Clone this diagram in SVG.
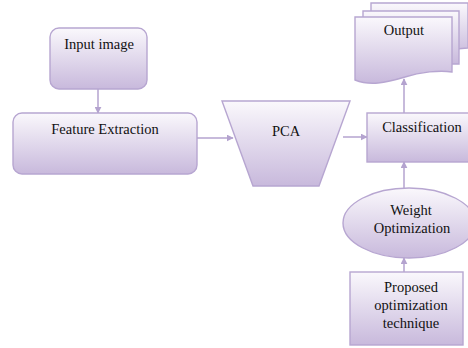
<svg xmlns="http://www.w3.org/2000/svg" width="468" height="348" viewBox="0 0 468 348">
  <defs>
    <linearGradient id="fill" x1="0" y1="0" x2="0" y2="1">
      <stop offset="0" stop-color="#faf8fc"/>
      <stop offset="1" stop-color="#c8b9dc"/>
    </linearGradient>
    <marker id="arrow" viewBox="0 0 10 10" refX="9" refY="5" markerWidth="7" markerHeight="7" markerUnits="userSpaceOnUse" orient="auto">
      <path d="M0,0 L10,5 L0,10 Z" fill="#b4a3cf"/>
    </marker>
  </defs>
  <style>
    .shape { fill: url(#fill); stroke: #b7a6d1; stroke-width: 1.4; }
    .label { font-family: "Liberation Serif", "Times New Roman", serif; font-size: 14.5px; fill: #111; text-anchor: middle; }
    .conn { stroke: #b4a3cf; stroke-width: 1.5; fill: none; marker-end: url(#arrow); }
  </style>

  <g id="connectors">
    <line class="conn" x1="98" y1="89" x2="98" y2="113"/>
    <line class="conn" x1="197" y1="138" x2="233" y2="138"/>
    <line class="conn" x1="343" y1="137" x2="367" y2="137"/>
    <line class="conn" x1="404" y1="113" x2="404" y2="79"/>
    <line class="conn" x1="404" y1="188" x2="404" y2="162"/>
    <line class="conn" x1="404" y1="272" x2="404" y2="258"/>
  </g>

  <g id="input-image">
    <rect class="shape" x="50" y="28" width="97" height="61" rx="9"/>
    <text class="label" x="99" y="49">Input image</text>
  </g>

  <g id="feature-extraction">
    <rect class="shape" x="13" y="113" width="184" height="61" rx="9"/>
    <text class="label" x="105" y="134">Feature Extraction</text>
  </g>

  <g id="pca">
    <polygon class="shape" points="222,101 350,101 319,186 253,186"/>
    <text class="label" x="286" y="136">PCA</text>
  </g>

  <g id="classification">
    <rect class="shape" x="367" y="113" width="110" height="49"/>
    <text class="label" x="422" y="132">Classification</text>
  </g>

  <g id="output">
    <path class="shape" d="M371,56 V3 H468 V48 Z"/>
    <path class="shape" d="M363,64 V11 H459 V64 Z"/>
    <path class="shape" d="M355,80 V17 H452 V72 C440,70 420,72 405,77 C385,83 370,86 355,80 Z"/>
    <text class="label" x="404" y="35">Output</text>
  </g>

  <g id="weight-optimization">
    <ellipse class="shape" cx="409" cy="223" rx="66" ry="35"/>
    <text class="label" x="411" y="215">Weight</text>
    <text class="label" x="412" y="233">Optimization</text>
  </g>

  <g id="proposed-technique">
    <rect class="shape" x="350" y="272" width="113" height="73"/>
    <text class="label" x="411" y="292">Proposed</text>
    <text class="label" x="411" y="310">optimization</text>
    <text class="label" x="411" y="328">technique</text>
  </g>
</svg>
